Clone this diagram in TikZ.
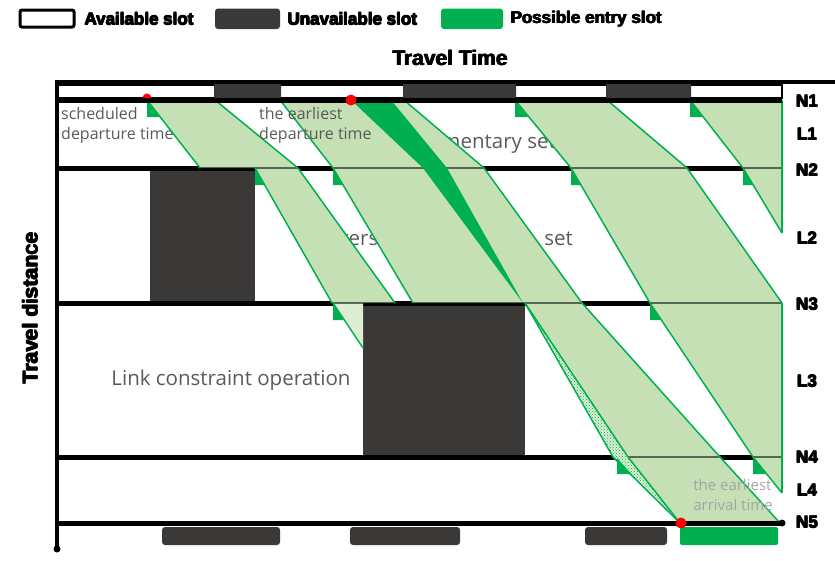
\documentclass[tikz,border=0pt]{standalone}
\usepackage{fontspec}
\setmainfont{Open Sans}
\newfontfamily\heavyfont{Liberation Sans}
\usetikzlibrary{patterns}
\definecolor{dk}{RGB}{59,56,56}
\definecolor{gr}{RGB}{0,176,80}
\definecolor{lgo}{RGB}{197,224,180}
\definecolor{lgt}{RGB}{222,238,212}
\definecolor{txt}{RGB}{90,90,90}
\definecolor{faint}{RGB}{165,165,165}
\newcommand\entrymark[3]{\fill[gr] (#1,#2) -- (#1,#2+16) -- ({#1+16*#3},#2+16) -- cycle;}
\newcommand\hvy[1]{\leavevmode\rlap{#1}\rlap{\kern0.8pt#1}\rlap{\raisebox{0.7pt}{#1}}\kern0.8pt\raisebox{0.7pt}{#1}}
\tikzset{
  lab/.style={inner sep=0pt, font=\heavyfont\bfseries\fontsize{17}{17}\selectfont},
  ttl/.style={inner sep=0pt, font=\heavyfont\bfseries\fontsize{21}{21}\selectfont},
  note/.style={inner sep=0pt, text=txt, align=left, font=\fontsize{16}{20}\selectfont},
  big/.style={inner sep=0pt, text=txt, font=\fontsize{20.5}{24}\selectfont},
  faintnote/.style={inner sep=0pt, text=faint, align=left, font=\fontsize{15}{20}\selectfont},
  band/.style={fill=lgo},
  edge/.style={draw=gr, line width=1.5pt, line join=round},
  nline/.style={line width=5pt, black},
  thinline/.style={line width=2.5pt, black, draw opacity=0.55},
  dslot/.style={fill=dk, rounded corners=3pt},
  aslot/.style={draw=black, line width=2pt, fill=white},
}
\begin{document}
\begin{tikzpicture}[x=1pt,y=-1pt]
\useasboundingbox (0,0) rectangle (835,560);
% legend
\draw[line width=3pt, fill=white, rounded corners=2pt] (20,10) rectangle (74,27);
\node[lab, anchor=west] (lgA) at (84,19) {\hvy{Available slot}};
\fill[dslot] (215,8.5) rectangle (280,29);
\node[lab, anchor=west] (lgU) at (287,19) {\hvy{Unavailable slot}};
\fill[gr, rounded corners=3pt] (441,8.5) rectangle (503,29);
\node[lab, anchor=west] (lgP) at (510,19) {\hvy{Possible entry slot}};
\node[ttl] (title) at (450,58) {\hvy{Travel Time}};
% unavailable blocks inside links
\fill[dk] (150,168) rectangle (255,302);
\fill[dk] (363,303) rectangle (525,456);
% top slot row
\draw[aslot] (58,85) rectangle (215,98);
\draw[aslot] (280,85) rectangle (404,98);
\draw[aslot] (515,85) rectangle (607,98);
\draw[aslot] (690,85) rectangle (782,98);
\fill[dslot] (214,82) rectangle (281,100);
\fill[dslot] (403,82) rectangle (516,100);
\fill[dslot] (606,82) rectangle (691,100);
% axes and node lines
\draw[line width=4pt] (55,82) -- (835,82);
\draw[nline] (57,168) -- (782,168);
\draw[nline] (57,303) -- (782,303);
\draw[nline] (57,457) -- (782,457);
% gray notes partly hidden by the bands
\node[note, anchor=north west] (sched) at (61,107) {scheduled\\departure time};
\node[big, anchor=base east] (comp) at (556,148) {complementary set};
\node[big, anchor=base west] (isA) at (323,245) {Intersection};
\node[big, anchor=base east] (isB) at (573,245) {set};
\node[big] (link) at (231,380) {Link constraint operation};
% bands
\fill[band] (147,100) -- (215,100) -- (298,168) -- (200,168) -- cycle;
\fill[band] (255,168) -- (298,168) -- (395,303) -- (332,303) -- cycle;
\fill[lgt] (333,303) -- (363,303) -- (363,348) -- cycle;
\fill[band] (280,100) -- (404,100) -- (484,168) -- (333,168) -- cycle;
\fill[band] (333,168) -- (484,168) -- (582,303) -- (413,303) -- cycle;
\fill[band] (525,303) -- (582,303) -- (720,457) -- (613,457) -- cycle;
\fill[band] (613,457) -- (720,457) -- (780,523) -- (680,523) -- cycle;
\fill[band] (515,100) -- (607,100) -- (687,168) -- (571,168) -- cycle;
\fill[band] (571,168) -- (687,168) -- (782,303) -- (650,303) -- cycle;
\fill[band] (650,303) -- (782,303) -- (782,457) -- (753,457) -- cycle;
\fill[band] (753,457) -- (782,457) -- (782,493) -- cycle;
\fill[band] (690,100) -- (782,100) -- (782,168) -- (743,168) -- cycle;
\fill[band] (743,168) -- (782,168) -- (782,233) -- cycle;
% node lines seen through the bands
\draw[thinline] (57,168) -- (782,168);
\draw[thinline] (57,303) -- (782,303);
\draw[thinline] (57,457) -- (782,457);
% earliest departure strip
\fill[gr] (351,100) -- (391,100) -- (447,168) -- (523,303) -- (423,168) -- cycle;
% cut-off part (link constraint)
\fill[lgt] (525,303) -- (628,457) -- (680,523) -- (613,457) -- cycle;
\fill[pattern=crosshatch dots, pattern color=gr] (525,303) -- (628,457) -- (680,523) -- (613,457) -- cycle;
% band edges
\draw[edge] (147,100) -- (200,168);
\draw[edge] (215,100) -- (298,168);
\draw[edge] (255,168) -- (332,303);
\draw[edge] (298,168) -- (395,303);
\draw[edge] (333,303) -- (363,348);
\draw[edge] (280,100) -- (333,168) -- (413,303);
\draw[edge] (404,100) -- (484,168) -- (582,303) -- (720,457) -- (780,523);
\draw[edge] (525,303) -- (613,457) -- (680,523);
\draw[edge] (525,303) -- (628,457) -- (680,523);
\draw[edge] (515,100) -- (571,168) -- (650,303) -- (753,457) -- (782,493);
\draw[edge] (607,100) -- (687,168) -- (782,303);
\draw[edge] (782,303) -- (782,493);
\draw[edge] (690,100) -- (743,168) -- (782,233);
\draw[edge] (782,100) -- (782,233);
% entry markers
\entrymark{147}{101}{0.78}
\entrymark{515}{101}{0.82}
\entrymark{690}{101}{0.78}
\entrymark{255}{169}{0.6}
\entrymark{333}{169}{0.6}
\entrymark{571}{169}{0.6}
\entrymark{743}{169}{0.6}
\entrymark{333}{304}{0.67}
\entrymark{650}{304}{0.67}
\entrymark{617}{458}{0.9}
\entrymark{753}{458}{0.8}
% notes over the bands
\node[note, anchor=north west] (earl) at (259,107) {the earliest\\departure time};
\node[faintnote] (arr) at (733,495) {the earliest\\arrival time};
% N1, N5 and vertical axis on top
\fill[red] (147,98) circle (4.5);
\draw[nline] (57,100) -- (782,100);
\draw[nline] (57,523) -- (782,523);
\fill (782,523) circle (3.5);
\draw[line width=4pt] (57,80) -- (57,549);
\fill (57,549) circle (3.5);
% bottom slot row
\fill[dslot] (162,527) rectangle (280,545);
\fill[dslot] (350,527) rectangle (460,545);
\fill[dslot] (585,527) rectangle (667,545);
\fill[gr, rounded corners=2pt] (680,527) rectangle (778,545);
% red points
\fill[red] (351,100) circle (5.5);
\fill[red] (681,523) circle (5.5);
% right labels
\node[lab] (n1) at (807,101) {\hvy{N1}};
\node[lab] (l1) at (807,134) {\hvy{L1}};
\node[lab] (n2) at (807,170) {\hvy{N2}};
\node[lab] (l2) at (807,238) {\hvy{L2}};
\node[lab] (n3) at (807,304) {\hvy{N3}};
\node[lab] (l3) at (807,381) {\hvy{L3}};
\node[lab] (n4) at (807,457) {\hvy{N4}};
\node[lab] (l4) at (807,490) {\hvy{L4}};
\node[lab] (n5) at (807,522) {\hvy{N5}};
\node[ttl, rotate=90] (tdist) at (30,308) {\hvy{Travel distance}};
\end{tikzpicture}
\end{document}
